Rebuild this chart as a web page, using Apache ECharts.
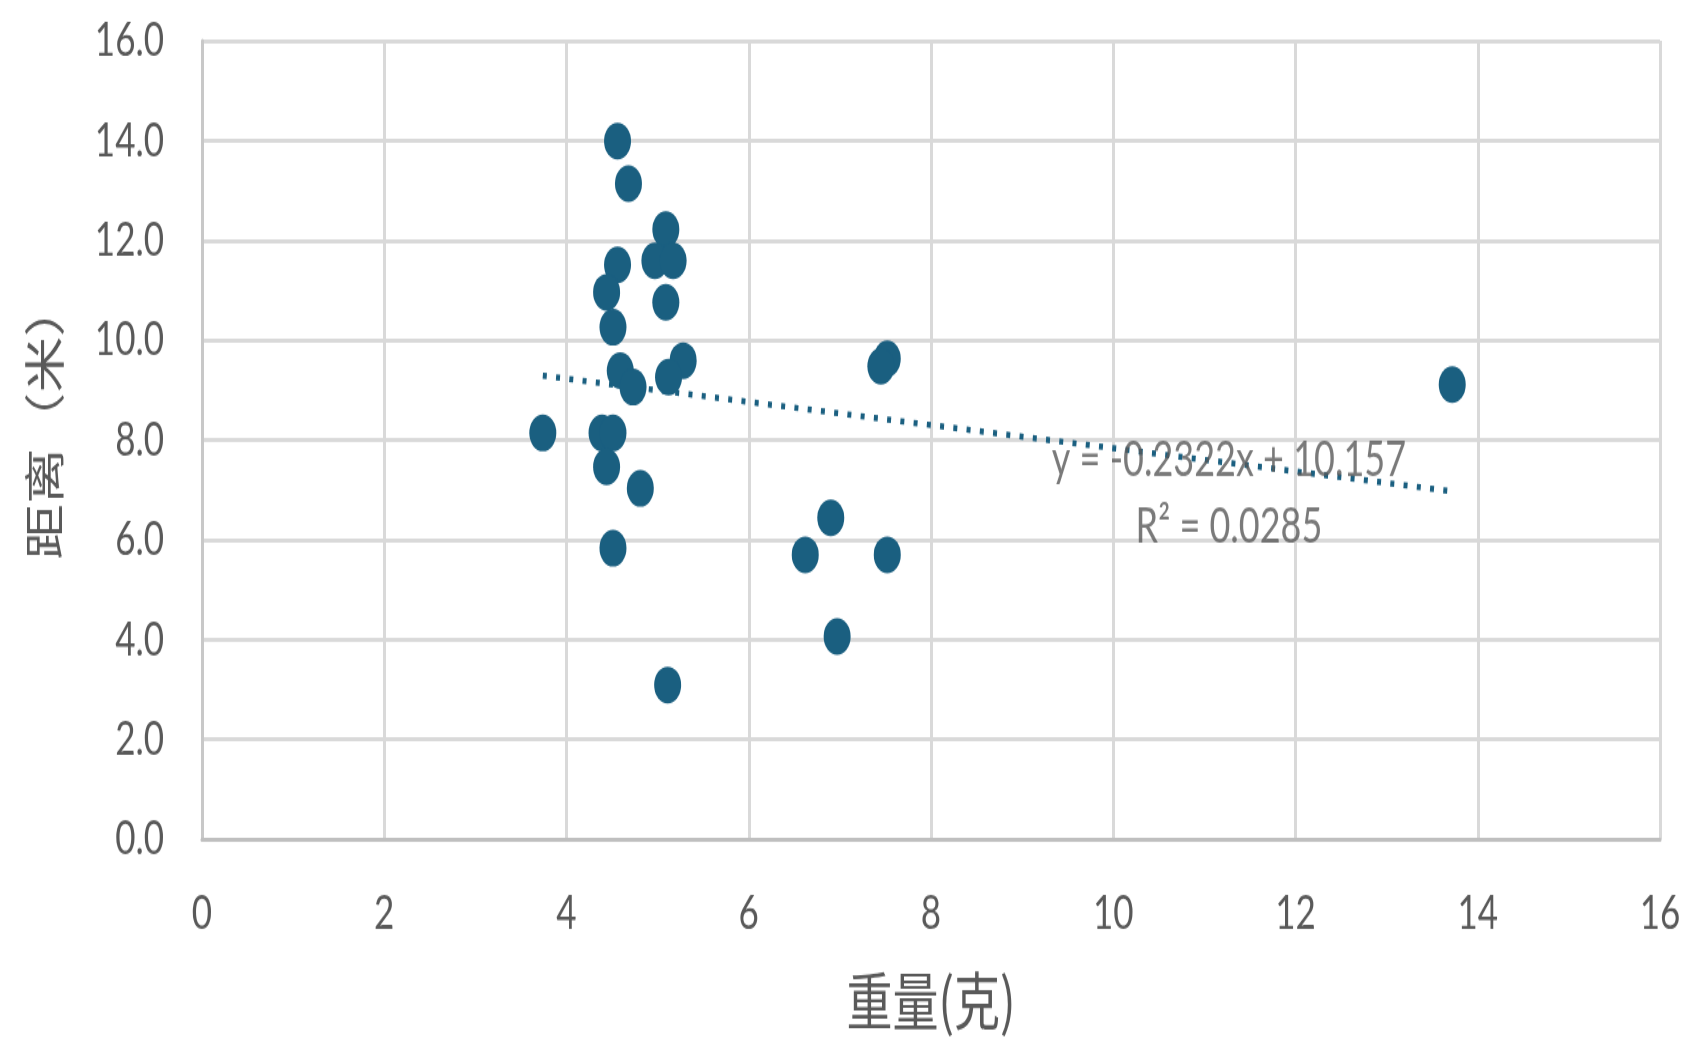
<!DOCTYPE html>
<html>
<head>
<meta charset="utf-8">
<script src="https://cdn.jsdelivr.net/npm/echarts/dist/echarts.min.js"></script>
<style>
html,body{margin:0;padding:0;background:#fff;overflow:hidden;width:1694px;height:1039px}
#wrap{position:absolute;left:0;top:0;width:1694px;height:764px;transform:scaleY(1.36);transform-origin:0 0}
#chart{width:1694px;height:764px}
</style>
</head>
<body>
<div id="wrap"><div id="chart"></div></div>
<script>
// ---- data ----
const weights   = [4.56, 4.68, 5.09, 4.97, 5.17, 4.56, 4.44, 5.09, 4.51, 5.28, 5.12, 4.59, 4.73, 3.74, 4.39, 4.51, 4.44, 4.81, 7.52, 7.45, 13.72, 6.90, 6.62, 7.52, 4.51, 6.97, 5.11];
const distances = [13.99, 13.14, 12.22, 11.59, 11.59, 11.51, 10.96, 10.76, 10.26, 9.59, 9.26, 9.39, 9.06, 8.14, 8.14, 8.14, 7.46, 7.03, 9.63, 9.48, 9.11, 6.44, 5.70, 5.70, 5.83, 4.06, 3.09];
const xTickLabels = ['0','2','4','6','8','10','12','14','16'];
const yTickLabels = ['0.0','2.0','4.0','6.0','8.0','10.0','12.0','14.0','16.0'];
const trendSlope = -0.2322;
const trendIntercept = 10.157;
const trendText = ['y = -0.2322x + 10.157', 'R\u00B2 = 0.0285'];
const trendLabelAt = [11.27, 6.92];
const xName = '重量(克)';
const yName = '距离（米）';

// ---- build ----
const points = weights.map((w, i) => [w, distances[i]]);
const xMin = Math.min(...weights), xMax = Math.max(...weights);
const trendData = [[xMin, trendSlope * xMin + trendIntercept], [xMax, trendSlope * xMax + trendIntercept]];

const BLUE = '#1a5f80';
const GRAY = '#595959';
const NUMFONT = 'Lato, "Liberation Sans", sans-serif';
const CJKFONT = '"Noto Sans CJK SC", sans-serif';

const chart = echarts.init(document.getElementById('chart'), null, {renderer: 'canvas'});
chart.setOption({
  animation: false,
  backgroundColor: '#ffffff',
  grid: {left: 202, right: 34, top: 30, bottom: 137, containLabel: false},
  xAxis: {
    type: 'value', min: 0, max: 16, interval: 2,
    name: xName, nameLocation: 'middle', nameGap: 96,
    nameTextStyle: {fontFamily: CJKFONT, fontSize: 46, color: GRAY},
    axisLine: {show: true, lineStyle: {color: '#bfbfbf', width: 3}},
    axisTick: {show: false},
    axisLabel: {margin: 37, fontFamily: NUMFONT, fontSize: 35, color: GRAY,
      formatter: v => xTickLabels[Math.round(v / 2)]},
    splitLine: {show: true, lineStyle: {color: '#d9d9d9', width: 3}}
  },
  yAxis: {
    type: 'value', min: 0, max: 16, interval: 2,
    name: yName, nameLocation: 'middle', nameGap: 137, nameRotate: 90,
    nameTextStyle: {fontFamily: CJKFONT, fontSize: 41, color: GRAY, padding: [0, 0, 0, 29]},
    axisLine: {show: true, lineStyle: {color: '#c8c8c8', width: 3}},
    axisTick: {show: false},
    axisLabel: {margin: 38, fontFamily: NUMFONT, fontSize: 35, color: GRAY,
      formatter: v => yTickLabels[Math.round(v / 2)]},
    splitLine: {show: true, lineStyle: {color: '#d9d9d9', width: 3}}
  },
  series: [
    {
      type: 'line', data: trendData, symbol: 'none', silent: true, z: 2,
      lineStyle: {color: BLUE, width: 4.5, type: [4, 9.3]}
    },
    {
      type: 'scatter', data: points, symbol: 'circle', symbolSize: 27, z: 3,
      itemStyle: {color: BLUE, opacity: 1}
    },
    {
      type: 'scatter', data: [trendLabelAt], symbolSize: 1, silent: true, z: 4,
      itemStyle: {color: 'rgba(0,0,0,0)'},
      label: {show: true, position: 'inside', formatter: trendText.join('\n'),
        fontFamily: NUMFONT, fontSize: 36, lineHeight: 49, color: GRAY, align: 'center'}
    }
  ]
});
</script>
</body>
</html>
